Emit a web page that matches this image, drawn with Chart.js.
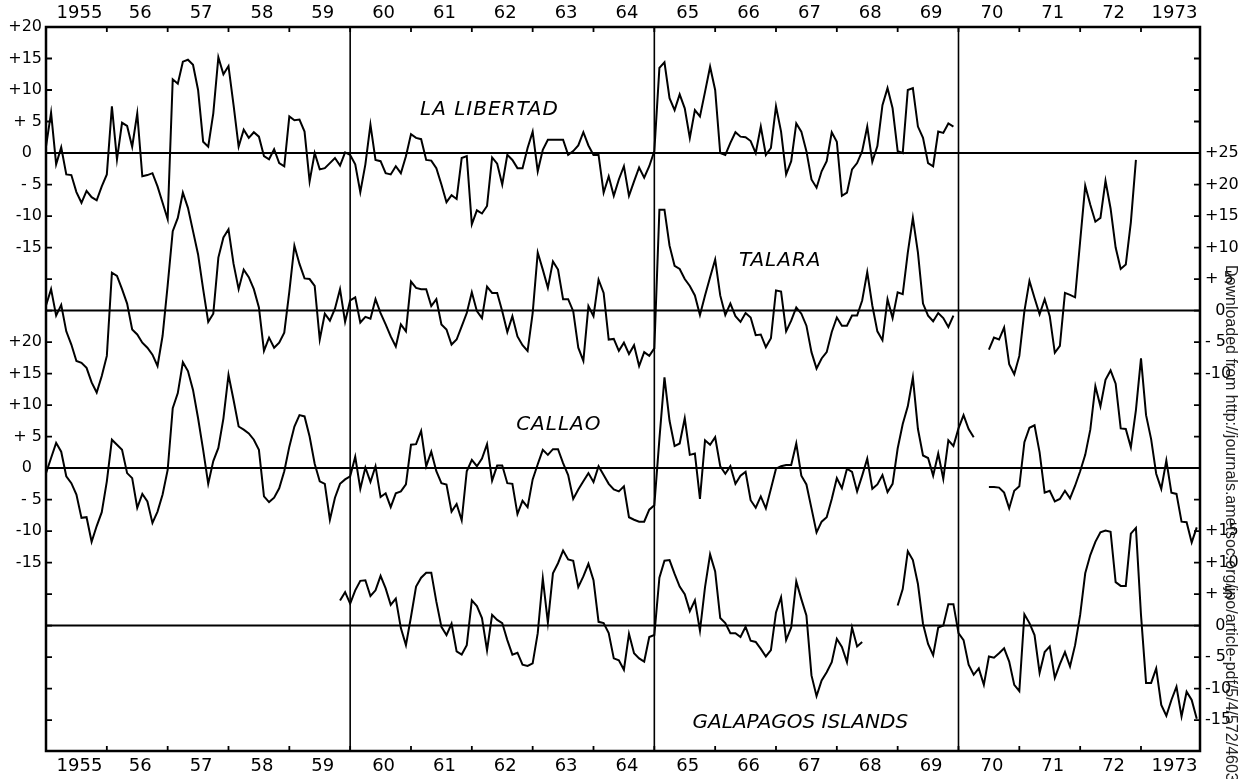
<!DOCTYPE html>
<html>
<head>
<meta charset="utf-8">
<title>Sea level anomalies</title>
<script src="https://cdn.jsdelivr.net/npm/chart.js@4.4.0/dist/chart.umd.min.js"></script>
<style>
  html, body { margin: 0; padding: 0; background: #fff; }
  #wrap { width: 1250px; height: 779px; }
</style>
</head>
<body>
<div id="wrap"><canvas id="seaChart" width="1250" height="779"></canvas></div>
<script>
// monthly values, Jan 1955 .. Dec 1973 (null = no data)
const gap = (n) => Array(n).fill(null);

const yearLabels = ['1955', '56', '57', '58', '59', '60', '61', '62', '63', '64',
  '65', '66', '67', '68', '69', '70', '71', '72', '1973'];

const laLibertad = [
  1, 6.4, -1.8, 0.9, -3.4, -3.5, -6.2, -7.9, -6, -7, -7.5, -5.3,
  -3.4, 7.4, -1, 4.8, 4.3, 1, 6.3, -3.7, -3.5, -3.2, -5.3, -7.9,
  -10.5, 11.7, 11, 14.5, 14.8, 14, 10, 1.8, 1, 6.3, 15.2, 12.5,
  13.8, 7.6, 1, 3.7, 2.4, 3.3, 2.6, -0.5, -1, 0.6, -1.6, -2.1,
  5.8, 5.2, 5.3, 3.4, -4.5, 0, -2.6, -2.4, -1.6, -0.8, -2, 0.1,
  -0.3, -1.8, -6.2, -1.8, 4.5, -1.1, -1.3, -3.2, -3.4, -2.1, -3.2, -0.5,
  3, 2.4, 2.2, -1.1, -1.2, -2.4, -5, -7.8, -6.7, -7.3, -0.8, -0.5,
  -11.3, -9.1, -9.6, -8.4, -0.7, -1.7, -5, -0.3, -1.1, -2.4, -2.4, 0.8,
  3.4, -2.9, 0.5, 2.1, 2.1, 2.1, 2.1, -0.3, 0.3, 1.2, 3.3, 1.2,
  -0.3, -0.3, -6.3, -3.7, -6.8, -4.2, -2.1, -6.8, -4.5, -2.3, -3.9, -2.1,
  0.3, 13.5, 14.4, 8.7, 6.8, 9.3, 7.1, 2.4, 6.8, 5.8, 9.7, 13.7,
  10, 0, -0.3, 1.6, 3.3, 2.6, 2.5, 1.9, 0, 4.2, -0.3, 0.8,
  7.4, 3.4, -3.4, -1.3, 4.7, 3.4, 0.3, -4.2, -5.5, -2.9, -1.3, 3.3,
  1.8, -6.8, -6.3, -2.6, -1.6, 0.3, 4.2, -1.4, 1.1, 7.6, 10.3, 7.1,
  0.3, 0, 10, 10.3, 4.2, 2.4, -1.6, -2.1, 3.4, 3.2, 4.7, 4.2,
  ...gap(48)
];

const talara = [
  0.8, 3.4, -0.8, 0.9, -3.3, -5.4, -8, -8.3, -9.1, -11.4, -13, -10.4,
  -7.2, 6, 5.5, 3.4, 1.1, -3, -3.8, -5.1, -5.9, -7, -8.8, -4,
  4, 12.6, 14.7, 18.7, 16.3, 12.6, 8.9, 3.4, -1.8, -0.5, 8.4, 11.6,
  12.9, 7.4, 3.4, 6.5, 5.3, 3.4, 0.5, -6.4, -4.3, -5.9, -5.1, -3.5,
  3, 10.3, 7.4, 5.1, 5, 3.9, -4.6, -0.5, -1.6, 0.3, 3.4, -1.8,
  1.6, 2.1, -1.9, -1, -1.3, 1.8, -0.4, -2.2, -4.1, -5.7, -2.2, -3.3,
  4.6, 3.6, 3.4, 3.4, 0.7, 1.8, -2.2, -3, -5.4, -4.6, -2.5, -0.4,
  2.9, -0.1, -1.2, 3.8, 2.8, 2.8, -0.1, -3.4, -0.9, -4.1, -5.5, -6.4,
  -0.4, 9.2, 6.5, 3.6, 7.8, 6.5, 1.8, 1.8, -0.1, -5.9, -8, 0.7,
  -0.9, 4.9, 2.8, -4.6, -4.5, -6.4, -5.1, -6.9, -5.5, -8.8, -6.6, -7.2,
  -6, 16, 16, 10.3, 7.1, 6.6, 5, 3.9, 2.4, -0.7, 2.4, 5.3,
  8.1, 2.4, -0.7, 1.1, -0.9, -1.8, -0.4, -1.1, -3.9, -3.8, -5.8, -4.4,
  3.2, 3, -3.3, -1.6, 0.5, -0.5, -2.4, -6.6, -9.2, -7.6, -6.6, -3.4,
  -1.1, -2.4, -2.4, -0.8, -0.8, 1.6, 6.1, 0.8, -3.3, -4.7, 1.8, -1.2,
  2.9, 2.6, 9.2, 14.7, 9.2, 1.1, -0.8, -1.7, -0.4, -1.2, -2.6, -0.8,
  ...gap(6), -6.2, -4.3, -4.6, -2.7, -8.5, -10.1,
  -7.2, -0.1, 4.7, 2, -0.6, 1.8, -0.9, -6.7, -5.6, 2.8, 2.5, 2.1,
  11, 19.8, 16.8, 14.1, 14.7, 20.6, 16.2, 10, 6.6, 7.3, 14, 23.9,
  ...gap(12)
];

const callao = [
  -0.8, 1.6, 4, 2.6, -1.3, -2.4, -4.2, -7.9, -7.8, -11.7, -9.2, -7,
  -2.1, 4.5, 3.7, 2.9, -0.8, -1.6, -6.3, -4.1, -5.3, -8.7, -6.9, -4.2,
  -0.3, 9.5, 11.9, 16.8, 15.4, 12.4, 7.9, 2.9, -2.5, 1.1, 3.2, 7.9,
  14.8, 10.8, 6.6, 6.1, 5.5, 4.5, 2.9, -4.5, -5.4, -4.7, -3.2, -0.5,
  3.4, 6.6, 8.4, 8.2, 5, 0.7, -2.1, -2.5, -8.2, -4.7, -2.5, -1.8,
  -1.3, 1.8, -3.3, 0.1, -2.2, 0.3, -4.6, -4, -6.2, -4, -3.7, -2.6,
  3.7, 3.8, 5.9, 0.3, 2.6, -0.5, -2.4, -2.6, -6.9, -5.7, -8.3, -0.5,
  1.3, 0.3, 1.5, 3.8, -2, 0.4, 0.4, -2.4, -2.5, -7.3, -5.2, -6.2,
  -1.8, 0.6, 2.9, 2.1, 3, 3, 0.8, -1.1, -4.9, -3.4, -2.1, -0.8,
  -2.2, 0.3, -1.1, -2.5, -3.4, -3.7, -2.9, -7.8, -8.2, -8.5, -8.5, -6.6,
  -5.9, 4.6, 14.4, 7.5, 3.5, 3.9, 7.9, 2.1, 2.3, -4.9, 4.4, 3.7,
  4.9, 0.3, -0.9, 0.3, -2.5, -1.2, -0.6, -5.1, -6.3, -4.5, -6.4, -3.3,
  -0.1, 0.3, 0.5, 0.5, 3.9, -1.2, -2.6, -6.4, -10.2, -8.5, -7.8, -4.9,
  -1.6, -3.2, -0.1, -0.6, -3.7, -1.2, 1.5, -3.3, -2.6, -1.1, -3.8, -2.5,
  3.1, 7, 9.8, 14.4, 6.2, 2, 1.6, -1.2, 2.3, -1.7, 4.4, 3.5,
  6.3, 8.4, 6.2, 4.9, null, null, -3, -3, -3.1, -3.9, -6.4, -3.6,
  -2.9, 4.1, 6.4, 6.8, 2.5, -3.9, -3.6, -5.3, -4.9, -3.6, -4.8, -2.8,
  -0.5, 2.1, 6.1, 13, 9.8, 14, 15.5, 13.4, 6.3, 6.2, 3.3, 9.2,
  17.4, 8.4, 4.6, -0.9, -3.3, 1.2, -3.9, -4.1, -8.5, -8.6, -11.8, -9.4
];

const galapagos = [
  ...gap(48),
  ...gap(10), 4, 5.3,
  3.5, 5.6, 7.1, 7.2, 4.7, 5.6, 7.9, 5.9, 3.3, 4.3, -0.4, -3.1,
  1.4, 6.2, 7.6, 8.4, 8.4, 3.8, -0.2, -1.5, 0.3, -4.1, -4.6, -3.1,
  4, 3.1, 1.2, -3.9, 1.7, 0.9, 0.4, -2.3, -4.6, -4.3, -6.2, -6.4,
  -6, -1.2, 7.5, 0.5, 8.3, 9.9, 11.9, 10.5, 10.3, 6.1, 7.8, 9.8,
  7.2, 0.6, 0.4, -1.2, -5.2, -5.5, -7, -1.3, -4.4, -5.2, -5.7, -1.8,
  -1.5, 7.6, 10.3, 10.4, 8.2, 6.2, 5, 2.3, 4, -0.8, 6.1, 11.3,
  8.6, 1.2, 0.4, -1.2, -1.2, -1.8, -0.2, -2.4, -2.6, -3.7, -4.9, -3.9,
  2.1, 4.5, -2.3, -0.3, 7, 4.2, 1.6, -7.9, -11.2, -8.7, -7.4, -5.8,
  -2.1, -3.4, -5.8, -0.3, -3.3, -2.6, ...gap(6),
  3.2, 5.8, 11.8, 10.4, 6.6, 0.3, -2.9, -4.7, -0.3, 0, 3.4, 3.4,
  -1.2, -2.3, -6.2, -7.8, -6.8, -9.4, -4.9, -5.1, -4.4, -3.6, -5.7, -9.4,
  -10.4, 1.8, 0.4, -1.5, -7.5, -4.2, -3.3, -8.3, -6.1, -4.2, -6.5, -3.1,
  1.7, 8.3, 11.2, 13.3, 14.8, 15.1, 14.9, 6.9, 6.3, 6.3, 14.6, 15.5,
  1.7, -9.1, -9.1, -6.8, -12.6, -14.3, -11.8, -9.7, -14.4, -10.5, -11.8, -14.8
];

// left scale: La Libertad on top, Callao below; right scale: Talara and Galapagos
const leftTickValues = [20, 15, 10, 5, 0, -5, -10, -15, -30, -35, -40, -45, -50, -55, -60, -65];
const leftTickLabels = ['+20', '+15', '+10', '+ 5', '0  ', '- 5', '-10', '-15',
  '+20', '+15', '+10', '+ 5', '0  ', '- 5', '-10', '-15'];
const rightTickValues = [0, -5, -10, -15, -20, -25, -30, -35, -60, -65, -70, -75, -80, -85, -90];
const rightTickLabels = ['+25', '+20', '+15', '+10', '+ 5', '  0', '- 5', '-10',
  '+15', '+10', '+ 5', '  0', '- 5', '-10', '-15'];

const seriesNames = ['LA LIBERTAD', 'TALARA', 'CALLAO', 'GALAPAGOS ISLANDS'];
const seriesData = [laLibertad, talara, callao, galapagos];

// layout: each station is shifted down by 25 units on the common axis
const stationShift = [0, -25, -50, -75];
const nameAt = [[1962.29, 6.8], [1967.07, -17.1], [1963.43, -43.2], [1967.4, -90.5]];
const nameSpacing = ['1px', '1px', '1px', '0px'];
const dividers = [1960, 1965, 1970];

const txt = '#000';
const yearFont = { family: 'DejaVu Sans', size: 18 };
const valueFont = { family: 'DejaVu Sans', size: 16 };

function toPoints(values, shift) {
  return values.map((v, i) => ({ x: 1955 + i / 12, y: v === null ? null : v + shift }));
}

const xAxis = (pos, h, pad) => ({
  type: 'linear',
  position: pos,
  min: 1955,
  max: 1973.97,
  grid: { display: false, drawTicks: false },
  border: { display: false },
  afterBuildTicks: (s) => { s.ticks = yearLabels.map((l, k) => ({ value: 1955.55 + k })); },
  afterFit: (s) => { s.height = h; },
  ticks: {
    autoSkip: false, maxRotation: 0, color: txt, font: yearFont, padding: pad,
    callback: (v, i) => yearLabels[i]
  }
});

const yAxis = (pos, w, vals, labels, pad) => ({
  type: 'linear',
  position: pos,
  min: -94.9,
  max: 20,
  grid: { display: false, drawTicks: false },
  border: { display: false },
  afterBuildTicks: (s) => { s.ticks = vals.map((v) => ({ value: v })); },
  afterFit: (s) => { s.width = w; },
  ticks: {
    autoSkip: false, color: txt, font: valueFont, padding: pad,
    callback: (v, i) => labels[i]
  }
});

const framePlugin = {
  id: 'frame',
  beforeDatasetsDraw(chart) {
    const { ctx, chartArea: a, scales } = chart;
    ctx.save();
    ctx.strokeStyle = '#000';
    ctx.lineWidth = 2;
    stationShift.forEach((s) => {
      const py = scales.y.getPixelForValue(s);
      ctx.beginPath(); ctx.moveTo(a.left, py); ctx.lineTo(a.right, py); ctx.stroke();
    });
    ctx.lineWidth = 1.6;
    dividers.forEach((d) => {
      const px = scales.x.getPixelForValue(d);
      ctx.beginPath(); ctx.moveTo(px, a.top); ctx.lineTo(px, a.bottom); ctx.stroke();
    });
    ctx.restore();
  },
  afterDatasetsDraw(chart) {
    const { ctx, chartArea: a, scales } = chart;
    ctx.save();
    ctx.strokeStyle = '#000';
    ctx.lineWidth = 2.5;
    ctx.strokeRect(a.left, a.top, a.right - a.left, a.bottom - a.top);

    // inward tick marks
    ctx.lineWidth = 1.8;
    for (let yr = 1956; yr <= 1973; yr++) {
      const px = scales.x.getPixelForValue(yr);
      ctx.beginPath();
      ctx.moveTo(px, a.top); ctx.lineTo(px, a.top + 5);
      ctx.moveTo(px, a.bottom); ctx.lineTo(px, a.bottom - 5);
      ctx.stroke();
    }
    for (let v = 15; v >= -90; v -= 5) {
      const py = scales.y.getPixelForValue(v);
      ctx.beginPath();
      ctx.moveTo(a.left, py); ctx.lineTo(a.left + 6, py);
      ctx.moveTo(a.right - 6, py); ctx.lineTo(a.right, py);
      ctx.stroke();
    }

    // station names
    ctx.fillStyle = txt;
    ctx.font = 'italic 20px "DejaVu Sans"';
    ctx.textAlign = 'center';
    ctx.textBaseline = 'middle';
    seriesNames.forEach((n, k) => {
      ctx.letterSpacing = nameSpacing[k];
      ctx.fillText(n, scales.x.getPixelForValue(nameAt[k][0]), scales.y.getPixelForValue(nameAt[k][1]));
    });

    // download stamp along the right edge
    ctx.letterSpacing = '0px';
    ctx.font = '16px "Liberation Sans"';
    ctx.textAlign = 'left';
    ctx.textBaseline = 'alphabetic';
    ctx.translate(1226, 265);
    ctx.rotate(Math.PI / 2);
    ctx.fillStyle = '#222';
    ctx.fillText('Downloaded from http://journals.ametsoc.org/jpo/article-pdf/5/4/572/4603', 0, 0);
    ctx.restore();
  }
};

new Chart(document.getElementById('seaChart'), {
  type: 'line',
  data: {
    datasets: seriesData.map((vals, k) => ({
      label: seriesNames[k],
      data: toPoints(vals, stationShift[k]),
      borderColor: '#000',
      borderWidth: 2,
      pointRadius: 0,
      tension: 0,
      spanGaps: false,
      fill: false
    }))
  },
  options: {
    responsive: false,
    animation: false,
    layout: { padding: 0 },
    plugins: { legend: { display: false }, tooltip: { enabled: false } },
    scales: {
      x: xAxis('bottom', 28, 5),
      xTop: xAxis('top', 27, 3),
      y: yAxis('left', 46, leftTickValues, leftTickLabels, 4),
      yRight: yAxis('right', 50, rightTickValues, rightTickLabels, 5)
    }
  },
  plugins: [framePlugin]
});
</script>
</body>
</html>
